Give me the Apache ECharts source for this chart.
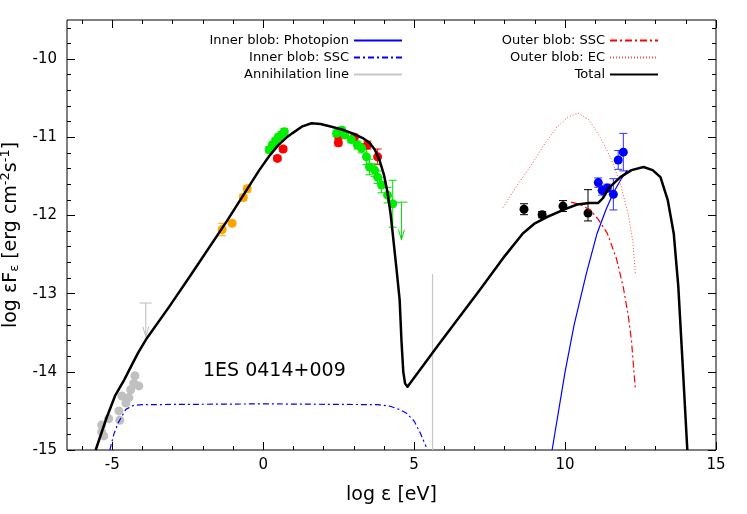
<!DOCTYPE html>
<html><head><meta charset="utf-8">
<script src="https://cdn.jsdelivr.net/npm/echarts@6/dist/echarts.min.js"></script>
<style>html,body{margin:0;padding:0;background:#fff}#c{width:747px;height:514px}</style>
</head><body><div id="c"></div>
<script>
const xTickLabels=[-5,0,5,10,15];
const yTickLabels=[-15,-14,-13,-12,-11,-10];
const totalModel=[[-5.55,-15],[-5.2,-14.6],[-4.9,-14.3],[-4.6,-14.1],[-4.39,-13.94],[-4.15,-13.76],[-3.89,-13.59],[-3.1,-13.16],[-2.36,-12.74],[-1.2,-12.07],[-0.13,-11.42],[0.2,-11.24],[0.5,-11.1],[0.75,-11.01],[0.96,-10.95],[1.3,-10.86],[1.6,-10.82],[1.9,-10.83],[2.2,-10.86],[2.6,-10.9],[2.96,-10.95],[3.3,-11.01],[3.52,-11.07],[3.7,-11.16],[3.85,-11.29],[4.0,-11.48],[4.12,-11.71],[4.22,-11.98],[4.29,-12.23],[4.42,-12.7],[4.52,-13.08],[4.58,-13.6],[4.64,-14.0],[4.7,-14.15],[4.78,-14.19],[5.85,-13.63],[7.18,-12.95],[8.0,-12.52],[8.6,-12.23],[9.0,-12.1],[9.4,-12.02],[10.0,-11.92],[10.4,-11.86],[10.8,-11.84],[11.1,-11.84],[11.25,-11.78],[11.45,-11.65],[11.83,-11.51],[12.2,-11.42],[12.6,-11.38],[12.9,-11.42],[13.16,-11.51],[13.4,-11.8],[13.6,-12.23],[13.75,-12.9],[13.9,-13.94],[14.05,-15]];
const innerSSC=[[-5.08,-15],[-4.95,-14.8],[-4.8,-14.65],[-4.55,-14.48],[-4.3,-14.43],[-4.0,-14.42],[0,-14.41],[3.8,-14.42],[4.2,-14.44],[4.5,-14.48],[4.75,-14.53],[5.0,-14.63],[5.2,-14.78],[5.4,-14.96]];
const photopion=[[9.57,-15],[10.0,-14.0],[10.3,-13.4],[10.7,-12.75],[11.06,-12.23],[11.35,-11.93],[11.6,-11.71],[11.85,-11.54],[12.06,-11.42]];
const outerSSC=[[10.2,-11.83],[10.5,-11.86],[10.83,-11.93],[11.1,-12.05],[11.4,-12.23],[11.7,-12.55],[11.93,-12.92],[12.1,-13.3],[12.2,-13.6],[12.33,-14.23]];
const outerEC=[[7.94,-11.9],[8.4,-11.62],[8.84,-11.38],[9.3,-11.1],[9.73,-10.87],[10.1,-10.74],[10.43,-10.69],[10.8,-10.78],[11.16,-11.0],[11.5,-11.25],[11.83,-11.59],[12.1,-12.0],[12.25,-12.35],[12.33,-12.76]];
const annihilation=[[5.61,-15],[5.61,-12.75]];
const grayPts=[[-5.35,-14.68],[-5.35,-14.77],[-5.28,-14.82],[-5.12,-14.6],[-4.78,-14.5],[-4.75,-14.62],[-4.68,-14.31],[-4.55,-14.4],[-4.45,-14.33],[-4.39,-14.23],[-4.25,-14.05],[-4.12,-14.18],[-4.29,-14.15]];
const orangePts=[[-1.36,-12.18,0.08],[-1.03,-12.1,0.03],[-0.66,-11.77,0.04],[-0.53,-11.66,0.04]];
const redPts=[[0.47,-11.27,0.03],[0.66,-11.15,0.03],[2.49,-11.07,0.04],[2.49,-10.98,0.04],[3.02,-11.0,0.04],[3.45,-11.1,0.05],[3.79,-11.25,0.1]];
const greenPts=[[0.2,-11.16,0.04],[0.3,-11.1,0.04],[0.4,-11.05,0.04],[0.5,-11.0,0.04],[0.6,-10.97,0.04],[0.7,-10.93,0.04],[2.43,-10.95,0.04],[2.6,-10.91,0.04],[2.7,-10.97,0.04],[2.92,-11.03,0.04],[3.12,-11.1,0.05],[3.26,-11.14,0.06],[3.42,-11.25,0.1],[3.52,-11.38,0.1],[3.69,-11.42,0.08],[3.79,-11.51,0.08],[3.92,-11.61,0.1],[4.12,-11.74,0.1],[4.29,-11.85,0.3]];
const blackPts=[[8.64,-11.92,0.07,0.07],[9.24,-11.99,0.04,0.04],[9.93,-11.88,0.07,0.07],[10.76,-11.97,0.1,0.3]];
const bluePts=[[11.1,-11.58,0.06,0.06],[11.23,-11.68,0.06,0.06],[11.4,-11.65,0.05,0.05],[11.6,-11.73,0.2,0.2],[11.76,-11.29,0.12,0.12],[11.93,-11.19,0.24,0.24]];
const grayLimit=[-3.89,-13.12,-13.55];
const greenLimit=[4.58,-11.83,-12.31];

function rng(a,b,s){const r=[];for(let v=a;v<=b+1e-9;v+=s)r.push(Math.round(v*10)/10);return r;}
const chart=echarts.init(document.getElementById('c'));
const tickStyle={color:'#000',width:1};
function errSeries(data,color){
  return {type:'custom',silent:true,z:3,data:data.map(d=>[d[0],d[1],d[1]-d[2],d[1]+(d.length>3?d[3]:d[2])]),
    renderItem:(p,api)=>{const x=api.value(0),lo=api.coord([x,api.value(2)]),hi=api.coord([x,api.value(3)]);
      return {type:'group',children:[
        {type:'line',shape:{x1:lo[0],y1:lo[1],x2:hi[0],y2:hi[1]},style:{stroke:color,lineWidth:1}},
        {type:'line',shape:{x1:lo[0]-4,y1:lo[1],x2:lo[0]+4,y2:lo[1]},style:{stroke:color,lineWidth:1}},
        {type:'line',shape:{x1:hi[0]-4,y1:hi[1],x2:hi[0]+4,y2:hi[1]},style:{stroke:color,lineWidth:1}}]};}};
}
function limSeries(l,color){
  return {type:'custom',silent:true,z:3,data:[l],
    renderItem:(p,api)=>{const a=api.coord([api.value(0),api.value(1)]),b=api.coord([api.value(0),api.value(2)]);
      return {type:'group',children:[
        {type:'line',shape:{x1:a[0]-6,y1:a[1],x2:a[0]+6,y2:a[1]},style:{stroke:color,lineWidth:1}},
        {type:'line',shape:{x1:a[0],y1:a[1],x2:b[0],y2:b[1]},style:{stroke:color,lineWidth:1}},
        {type:'polyline',shape:{points:[[b[0]-3,b[1]-10],[b[0],b[1]],[b[0]+3,b[1]-10]]},style:{stroke:color,fill:'none',lineWidth:1}}]};}};
}
function sc(data,color){return {type:'scatter',data:data.map(d=>[d[0],d[1]]),symbolSize:9,itemStyle:{color:color,opacity:1},z:4,silent:true};}
function ln(name,data,color,type,w){return {name:name,type:'line',data:data,showSymbol:false,symbol:'none',lineStyle:{color:color,type:type,width:w,join:'round'},itemStyle:{color:color},z:5,silent:true};}
const xbase={type:'value',min:-6.5,max:15,splitLine:{show:false},axisLine:{show:false,onZero:false}};
const ybase={type:'value',min:-15,max:-9.5,splitLine:{show:false},axisLine:{show:false,onZero:false}};
const legText={fontSize:13,color:'#000',fontFamily:'DejaVu Sans'};
chart.setOption({
  animation:false,
  grid:{left:67,right:31,top:20,bottom:64,show:true,borderColor:'#000',borderWidth:1,containLabel:false,outerBoundsMode:'none'},
  xAxis:[
    Object.assign({},xbase,{name:'log ε [eV]',nameLocation:'middle',nameGap:36,nameTextStyle:{fontSize:19,color:'#000',fontFamily:'DejaVu Sans'},
      axisLabel:{customValues:xTickLabels,fontSize:15,color:'#000',fontFamily:'DejaVu Sans',margin:8},
      axisTick:{inside:true,length:8,lineStyle:tickStyle,customValues:xTickLabels}}),
    Object.assign({},xbase,{position:'bottom',axisLabel:{show:false},axisTick:{inside:true,length:4,lineStyle:tickStyle,customValues:rng(-6,15,1)}}),
    Object.assign({},xbase,{position:'top',axisLabel:{show:false},axisTick:{inside:true,length:8,lineStyle:tickStyle,customValues:xTickLabels}}),
    Object.assign({},xbase,{position:'top',axisLabel:{show:false},axisTick:{inside:true,length:4,lineStyle:tickStyle,customValues:rng(-6,15,1)}})
  ],
  yAxis:[
    Object.assign({},ybase,{name:'{a|log εF}{s|ε}{a| [erg cm}{p|-2}{a|s}{p|-1}{a|]}',nameLocation:'middle',nameGap:28,
      nameTextStyle:{rich:{a:{fontSize:19,color:'#000',fontFamily:'DejaVu Sans'},s:{fontSize:13,color:'#000',fontFamily:'DejaVu Sans',padding:[8,0,0,0]},p:{fontSize:13,color:'#000',fontFamily:'DejaVu Sans',padding:[0,0,10,0]}}},
      axisLabel:{customValues:yTickLabels,fontSize:15,color:'#000',fontFamily:'DejaVu Sans',margin:10},
      axisTick:{inside:true,length:8,lineStyle:tickStyle,customValues:yTickLabels}}),
    Object.assign({},ybase,{position:'left',axisLabel:{show:false},axisTick:{inside:true,length:4,lineStyle:tickStyle,customValues:rng(-15,-9.6,0.2)}}),
    Object.assign({},ybase,{position:'right',axisLabel:{show:false},axisTick:{inside:true,length:8,lineStyle:tickStyle,customValues:yTickLabels}}),
    Object.assign({},ybase,{position:'right',axisLabel:{show:false},axisTick:{inside:true,length:4,lineStyle:tickStyle,customValues:rng(-15,-9.6,0.2)}})
  ],
  legend:[
    {data:['Inner blob: Photopion','Inner blob: SSC','Annihilation line'],orient:'vertical',align:'right',right:339,top:29,itemWidth:48,itemHeight:10,itemGap:4,itemStyle:{color:'transparent',borderWidth:0},textStyle:legText},
    {data:['Outer blob: SSC','Outer blob: EC','Total'],orient:'vertical',align:'right',right:83,top:29,itemWidth:48,itemHeight:10,itemGap:4,itemStyle:{color:'transparent',borderWidth:0},textStyle:legText}
  ],
  graphic:[{type:'text',left:203,top:362,style:{text:'1ES 0414+009',fontSize:19,fill:'#000',fontFamily:'DejaVu Sans'}}],
  series:[
    errSeries(orangePts,'#ffa500'),errSeries(redPts,'#ff0000'),errSeries(greenPts,'#00dd00'),
    errSeries(blackPts,'#000'),errSeries(bluePts,'#3030ff'),
    limSeries(grayLimit,'#bbbbbb'),limSeries(greenLimit,'#00dd00'),
    sc(grayPts,'#c0c0c0'),sc(orangePts,'#ffa500'),sc(redPts,'#ff0000'),sc(greenPts,'#00ee00'),sc(blackPts,'#000'),sc(bluePts,'#0000ff'),
    ln('Inner blob: Photopion',photopion,'#0000ff','solid',1.2),
    ln('Inner blob: SSC',innerSSC,'#0000ff',[6,3,2,3],1.2),
    ln('Annihilation line',annihilation,'#c8c8c8','solid',1.2),
    ln('Outer blob: SSC',outerSSC,'#ff0000',[7,3,2,3],1.2),
    ln('Outer blob: EC',outerEC,'#ff4444',[1,2],1),
    ln('Total',totalModel,'#000','solid',2.5)
  ]
});
</script></body></html>
